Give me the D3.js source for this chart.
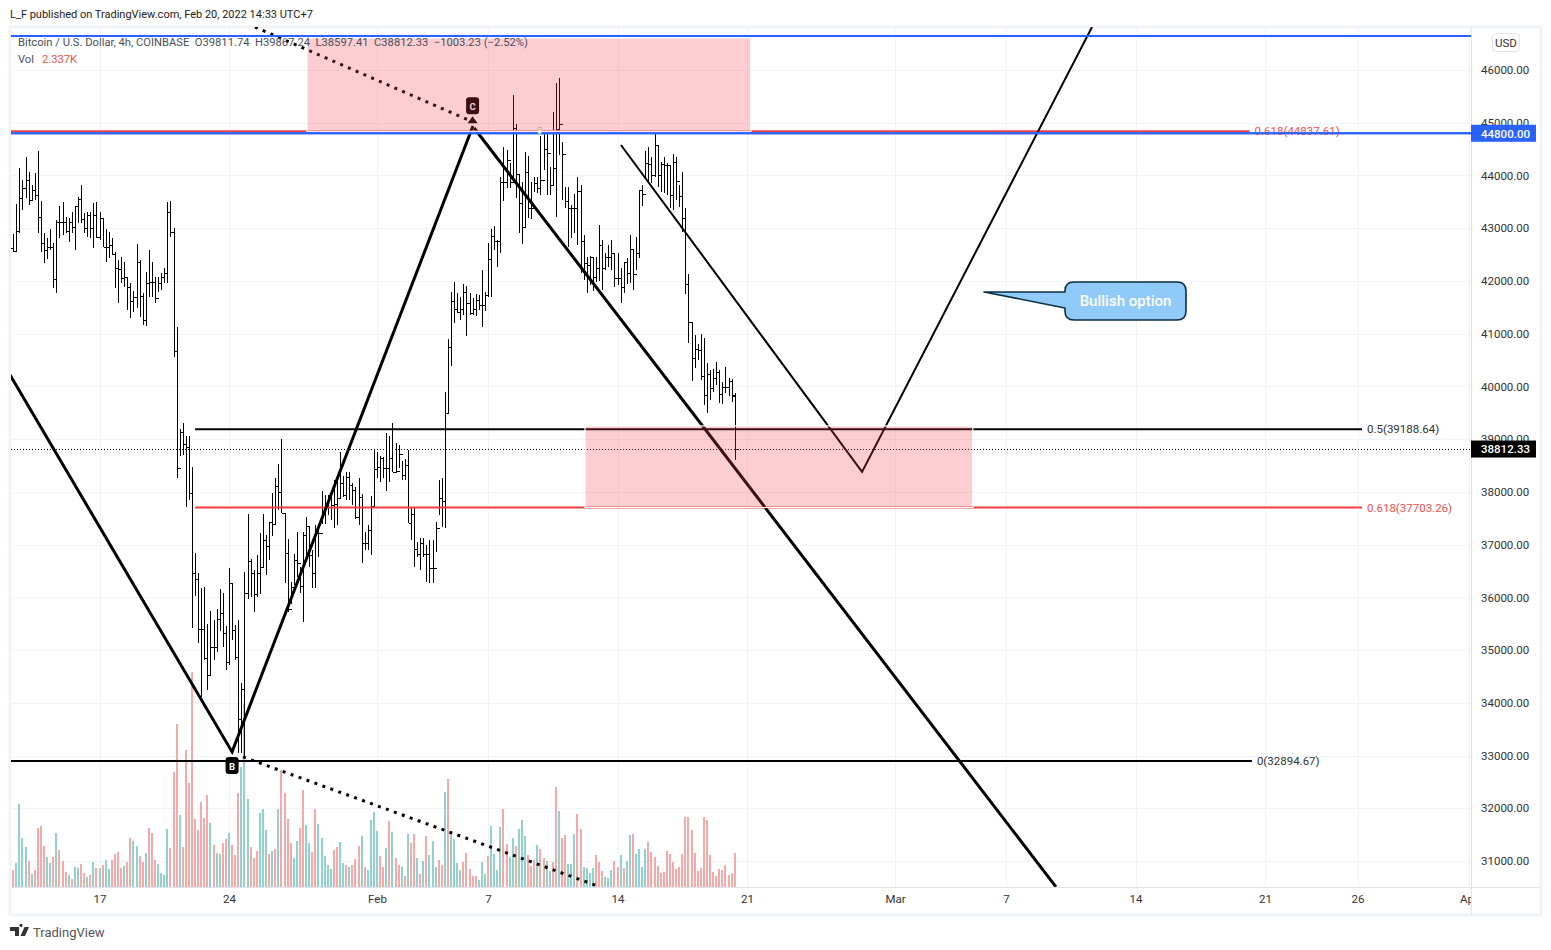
<!DOCTYPE html>
<html><head><meta charset="utf-8">
<script src="https://cdn.jsdelivr.net/npm/d3@7/dist/d3.min.js"></script>
<style>html,body{margin:0;padding:0;background:#fff;overflow:hidden}svg{display:block}text{font-family:Roboto,sans-serif}</style>
</head><body><svg id="c" width="1551" height="950"></svg>
<script>
// ---- data ----
const firstBar = "2022-01-12T04:00Z", barHours = 4;
const opens = [42650,42620,42570,42940,43570,43760,43915,43535,43725,43630,
43220,42725,42590,42650,42650,42040,43125,43110,43110,42955,
43110,43030,43420,43555,43170,42995,43250,42995,43250,42840,
43190,42650,42650,42680,42505,42250,42220,42050,42070,41890,
41610,41700,42365,41715,41260,41970,41985,41985,41670,41955,
42080,42145,43315,42935,40665,38447,39140,38909,38858,37973,
36457,36343,35395,35395,34845,34530,35067,35054,35591,35699,
35319,34782,36280,35383,34877,33689,34258,36090,36690,36457,
36057,36457,36570,37088,36975,37436,37385,38112,38005,37594,
36836,35770,36190,36710,36646,36216,37183,37354,36804,36457,
37228,37228,37720,37720,37720,37752,37765,37879,38176,37942,
38277,38131,38037,37531,37910,37038,37038,37278,37733,38428,
38479,38637,38447,38447,38637,38384,38403,38713,38321,38511,
37405,37582,36912,36823,37038,36823,36823,36551,36551,37322,
37879,37828,39490,40742,41620,41462,41418,41462,41797,41576,
41399,41462,41639,41544,41544,41734,42410,42852,42764,42764,
43882,43882,44293,43870,44893,44028,43471,43016,44072,43377,
43377,43851,43756,43914,44495,44419,43819,44135,44874,44976,
44400,43516,43377,43377,43377,43705,42764,42346,42302,42448,
42081,42239,42675,42239,42448,42448,42523,42049,42049,41891,
42365,42144,42606,42125,42536,43724,43648,44242,44217,44015,
44577,44009,44211,44198,44198,43629,44261,43895,43617,43187,
41936,41216,40533,40710,40691,40198,39838,40230,39977,40154,
40280,39857,39983,39983,40110,39811];
const highs = [43000,42890,43460,44140,43915,44355,44070,43820,44040,44465,
43515,42900,42810,42985,42715,43155,43420,43500,43220,43190,
43315,43420,43585,43820,43280,43315,43315,43470,43495,43315,
43190,42980,42935,42810,42555,42395,42450,42365,42080,41970,
41800,42700,42400,41765,42170,42590,42365,42080,42080,42145,
42240,43500,43515,42995,41120,39187,39300,39060,39060,38480,
36836,36457,36173,36204,35496,35743,35572,35774,36154,36078,
35458,36552,36268,35477,35572,34371,36488,37582,36722,36520,
36804,37215,37575,37184,37436,37986,38258,38523,39000,37594,
37100,36299,36817,37234,36583,37234,37519,37354,36899,37373,
37354,38018,37942,37942,37910,38226,38226,38763,38302,38384,
38384,38163,38087,38258,37961,37247,37373,37923,38795,38763,
38681,38656,39111,39060,39300,38934,38890,38593,38618,38795,
37689,37689,37057,37120,37120,36994,37089,37089,37436,38226,
38258,39900,40893,41797,41974,41765,41702,41942,41904,41778,
41671,41746,41734,42208,41797,42713,42978,43042,42776,43964,
44533,44483,44230,45525,44976,44028,43870,44438,44369,43882,
43964,43977,44748,44855,44830,44167,45209,45747,45841,44641,
43787,43787,43440,43648,43964,43819,42871,42460,42479,42460,
42460,43061,42776,42523,42681,42776,42523,42536,42239,42365,
42429,42871,42606,42839,43724,43819,44457,44533,44356,44786,
44577,44261,44356,44230,44198,44400,44356,43819,44059,43377,
42126,41216,40976,40805,40995,40912,40438,40312,40331,40457,
40312,40078,40363,40154,40135,39867];
const lows = [42460,42555,42555,42900,43345,43565,43440,43535,43535,42900,
42555,42335,42410,42590,41860,41765,42810,42870,42900,42745,
42900,42590,43090,43090,42900,42840,42810,42620,42810,42775,
42650,42365,42430,42490,41860,41575,41955,41890,41450,41305,
41420,41480,41325,41165,41150,41700,41700,41575,41795,41830,
41955,41955,42840,40565,38260,38680,38700,37708,37847,35427,
36027,35130,34118,34814,34245,34530,34814,34972,35370,35067,
34624,34719,35193,34814,33044,33044,33000,35970,36000,35730,
36014,36065,36564,36425,36710,37165,37392,37657,37594,36270,
35730,35875,36235,36394,36077,35540,36804,36583,36172,36172,
36773,37386,37392,37563,37468,37310,37373,37879,37910,37847,
37847,37752,37480,37373,36646,36899,36899,36804,37708,38258,
38195,38258,38024,38195,38384,38384,38447,38226,38226,37405,
37089,36583,36773,36520,36773,36299,36267,36280,36867,37563,
37341,37322,39490,40388,41209,41386,41260,41355,40963,41355,
41355,41342,41449,41133,41437,41689,41689,42587,42271,42523,
43522,43756,43756,43851,43566,42915,42694,42997,43187,43168,
43693,43661,43630,44103,43630,43630,43819,43219,44388,43535,
43377,42650,42808,42915,42681,42144,42018,41778,41923,41816,
41986,42005,41828,42207,42271,42207,41891,41923,41575,41765,
41942,41955,41828,42207,42429,43427,43945,43901,43863,43977,
43775,43693,43661,43629,43377,43345,43535,43408,42934,41747,
40818,40110,40344,40502,40122,39648,39490,39743,39901,40028,
39680,39661,39870,39825,39712,38597];
const closes = [42620,42570,42940,43570,43760,43915,43535,43725,43630,43220,
42725,42590,42650,42650,42040,43125,43110,43110,42955,43110,
43030,43420,43555,43170,42995,43250,42995,43250,42840,43190,
42650,42650,42680,42505,42250,42220,42050,42070,41890,41610,
41700,42365,41715,41260,41970,41985,41985,41670,41955,42080,
42145,43315,42935,40665,38447,39140,38909,38858,37973,36457,
36343,35395,35395,34845,34530,35067,35054,35591,35699,35319,
34782,36280,35383,34877,33689,34258,36090,36690,36457,36057,
36457,36570,37088,36975,37436,37385,38112,38005,37594,36836,
35770,36190,36710,36646,36216,37183,37354,36804,36457,37228,
37228,37720,37720,37720,37752,37765,37879,38176,37942,38277,
38131,38037,37531,37910,37038,37038,37278,37733,38428,38479,
38637,38447,38447,38637,38384,38403,38713,38321,38511,37405,
37582,36912,36823,37038,36823,36823,36551,36551,37322,37879,
37828,39490,40742,41620,41462,41418,41462,41797,41576,41399,
41462,41639,41544,41544,41734,42410,42852,42764,42764,43882,
43882,44293,43870,44893,44028,43471,43016,44072,43377,43377,
43851,43756,43914,44495,44419,43819,44135,44874,44976,44400,
43516,43377,43377,43377,43705,42764,42346,42302,42448,42081,
42239,42675,42239,42448,42448,42523,42049,42049,41891,42365,
42144,42606,42125,42536,43724,43648,44242,44217,44015,44577,
44009,44211,44198,44198,43629,44261,43895,43617,43187,41936,
41216,40533,40710,40691,40198,39838,40230,39977,40154,40280,
39857,39983,39983,40110,39838,38812];
const volumes = [1.77,1.20,1.68,5.75,3.40,2.78,1.77,0.92,1.20,4.09,4.23,2.85,2.09,1.68,2.09,3.75,2.57,1.77,1.06,0.85,
0.57,1.40,1.33,1.61,0.99,0.71,0.85,1.75,1.33,1.33,1.54,1.89,1.26,1.89,2.30,2.44,1.33,1.47,1.75,3.40,
3.20,2.85,2.16,1.75,2.37,4.09,3.75,1.89,1.61,0.99,0.85,4.02,2.71,7.95,11.26,4.99,2.78,9.47,7.20,14.85,
4.71,3.95,5.89,4.78,6.37,4.44,2.92,2.37,2.30,3.06,3.33,3.75,2.92,2.23,6.51,8.30,12.69,6.09,2.78,2.02,
2.51,5.13,5.40,3.95,2.30,2.51,2.64,5.40,8.09,6.51,4.71,3.06,2.02,3.20,4.09,6.71,4.30,3.06,2.44,5.40,
4.37,3.40,2.16,1.54,1.26,2.57,2.78,3.13,1.68,1.54,1.40,1.54,1.95,2.85,3.54,1.40,1.20,4.64,5.20,3.89,2.16,
1.38,2.69,4.55,3.79,2.00,1.52,1.38,0.76,3.66,3.03,3.66,2.00,0.90,1.79,3.52,2.21,3.17,1.38,1.86,1.52,
6.55,7.45,3.86,3.31,1.66,1.17,1.72,2.34,1.24,0.76,0.76,0.48,1.72,0.90,2.14,4.21,2.28,1.17,4.14,5.38,
2.97,2.07,3.38,2.83,4.00,4.62,3.52,2.21,1.45,1.86,2.90,2.62,2.00,1.79,1.10,1.72,6.90,5.24,3.38,3.59,
1.59,1.59,3.66,5.03,4.00,1.38,1.31,0.97,1.31,2.21,1.72,1.10,0.69,0.62,1.17,1.79,1.38,2.21,1.31,1.79,
3.59,3.66,2.28,2.62,1.38,2.62,3.10,2.41,2.07,1.45,0.97,1.03,2.48,2.28,1.72,1.24,1.38,2.28,4.83,4.83,
3.93,2.34,1.10,1.31,4.83,4.62,2.21,1.03,0.76,1.24,1.17,1.52,0.83,0.97,2.337];
const volumeDirections = ("d d u u u u d u d d d d u u d u d d d u d u u d d u d u d u d u u d d d d u d d "+
"u u d d u d d d u u u u d d d u d d d d d d d d d u d u u d d u d d d u u u d d "+
"d u u u d u d u d d d d u u d d u u d d u u u u u d d u u d u d d d u d u u u u "+
"d d u d u d d u d u d d u d u d u u u d d u d u u u u d d d d d u u u d u u u u d d "+
"u u d u u u d d d u d d u u d d u d d u u u d d u u u u d d d u u u d d u d u u d u u u u d d").trim().split(" ");
const priceTicks = [46000,45000,44000,43000,42000,41000,40000,39000,38000,37000,36000,35000,34000,33000,32000,31000];
const timeTicks = ["2022-01-17","2022-01-24","2022-02-01","2022-02-07","2022-02-14","2022-02-21","2022-03-01","2022-03-07","2022-03-14","2022-03-21","2022-03-26","2022-04-01"];
const timeLabels = ["17","24","Feb","7","14","21","Mar","7","14","21","26","Apr"];
const waveLine = [["2022-01-12T04:00Z",40217],["2022-01-24T04:00Z",33069],["2022-02-06T04:30Z",44938]];
const fallLine = [["2022-02-06T06:00Z",44900],["2022-03-09T16:48Z",30510]];
const bullishLine = [["2022-02-14T04:30Z",44578],["2022-02-27T05:15Z",38378],["2022-03-11T15:36Z",46815]];
const dottedTop = [["2022-01-25T09:43Z",46815],["2022-02-06T04:30Z",45014]];
const dottedBottom = [["2022-01-24T18:10Z",32974],["2022-02-13T01:12Z",30510]];
const fibLines = [
 {a:"2022-01-22T04:00Z",b:"2022-03-26T05:50Z",p:39188.64,c:"#000",w:2,label:"0.5(39188.64)"},
 {a:"2022-01-22T04:00Z",b:"2022-03-26T05:50Z",p:37703.26,c:"#f23f3a",w:2,label:"0.618(37703.26)"},
 {a:"2022-01-12T00:00Z",b:"2022-03-20T07:00Z",p:32894.67,c:"#000",w:2,label:"0(32894.67)"},
 {a:"2022-01-12T00:00Z",b:"2022-03-20T04:00Z",p:44837.61,c:"#f23f3a",w:2,label:"0.618(44837.61)"}];
const bluePrices = [46645,44800];
const lastPrice = 38812.33;
const zones = [["2022-01-28T05:11Z","2022-02-21T05:00Z",46607,44837.61],["2022-02-12T05:50Z","2022-03-05T05:00Z",39250,37703.26]];
const callout = {tip:["2022-03-05T19:30Z",41791],x0:"2022-03-10T04:30Z",x1:"2022-03-16T17:30Z",top:41980,bot:41260,baseLow:41487,text:"Bullish option"};
const markers = [{t:"2022-01-24T04:00Z",p:32894.67,s:"B",up:false},{t:"2022-02-06T04:00Z",p:44950,s:"C",up:true}];
const handlePoint = ["2022-02-09T19:00Z",44850];

// ---- layout ----
const L=11,R=1471,T=27,B=887, svg=d3.select("#c");
const dt=s=>new Date(s);
const x=d3.scaleUtc().domain([dt("2022-01-24T00:00Z"),dt("2022-03-01T00:00Z")]).range([229,895]);
const y=d3.scaleLinear().domain([31000,46000]).range([861,70]);
const v=d3.scaleLinear().domain([0,14.85]).range([887,672]);
const first=+dt(firstBar), tOf=i=>new Date(first+i*barHours*3600e3);
const px=i=>Math.round(x(tOf(i)));
const crisp=v=>Math.round(v)+.5;

svg.append("rect").attr("x",10).attr("y",27).attr("width",1531).attr("height",888).attr("fill","#fff").attr("stroke","#f0f3fa").attr("stroke-width",3);
const clip=svg.append("defs");
clip.append("clipPath").attr("id","pane").append("rect").attr("x",L).attr("y",T).attr("width",R-L).attr("height",B-T);
clip.append("clipPath").attr("id","timeclip").append("rect").attr("x",L).attr("y",B).attr("width",R-L).attr("height",28);
const pane=svg.append("g").attr("clip-path","url(#pane)");

// grid
pane.append("g").selectAll("line").data(priceTicks).join("line").attr("x1",L).attr("x2",R).attr("y1",d=>crisp(y(d))).attr("y2",d=>crisp(y(d))).attr("stroke","#f0f3fa");
pane.append("g").selectAll("line").data(timeTicks).join("line").attr("x1",d=>crisp(x(dt(d+"T00:00Z")))).attr("x2",d=>crisp(x(dt(d+"T00:00Z")))).attr("y1",T).attr("y2",B).attr("stroke","#f0f3fa");

// volume
pane.append("g").attr("shape-rendering","crispEdges").selectAll("rect").data(volumes).join("rect")
 .attr("x",(d,i)=>px(i)-1).attr("width",2).attr("y",d=>v(d)).attr("height",d=>887-v(d))
 .attr("fill",(d,i)=>volumeDirections[i]==="u"?"#92d2cc":"#f7a9a7");

// OHLC bars
const bars=pane.append("g").attr("stroke","#000").attr("stroke-width",1).attr("shape-rendering","crispEdges");
bars.selectAll("path").data(highs).join("path").attr("fill","none").attr("d",(h,i)=>{
 const c=px(i)+.5;
 return `M${c},${Math.round(y(h))}V${Math.round(y(lows[i]))}M${c-3},${crisp(y(opens[i]))}H${c}M${c},${crisp(y(closes[i]))}H${c+3}`;});

// drawings
const ln=d3.line().x(d=>x(dt(d[0]))).y(d=>y(d[1]));
const draw=pts=>pane.append("path").attr("d",ln(pts)).attr("fill","none").attr("stroke","#000").attr("stroke-linejoin","miter");
pane.append("g").selectAll("line").data(fibLines).join("line")
 .attr("x1",d=>x(dt(d.a))).attr("x2",d=>x(dt(d.b))).attr("y1",d=>y(d.p)).attr("y2",d=>y(d.p)).attr("stroke",d=>d.c).attr("stroke-width",d=>d.w);
pane.append("line").attr("x1",L).attr("x2",R).attr("y1",crisp(y(lastPrice))).attr("y2",crisp(y(lastPrice))).attr("stroke","#000").attr("stroke-dasharray","1,2");
draw(waveLine).attr("stroke-width",3);
draw(fallLine).attr("stroke-width",3);
draw(bullishLine).attr("stroke-width",2);
draw(dottedTop).attr("stroke-width",3).attr("stroke-dasharray","3,5.45");
draw(dottedBottom).attr("stroke-width",3).attr("stroke-dasharray","3,5.45");
pane.append("g").selectAll("line").data(bluePrices).join("line").attr("x1",L).attr("x2",R).attr("y1",d=>y(d)).attr("y2",d=>y(d)).attr("stroke","#2962ff").attr("stroke-width",2);

// fib labels
pane.append("g").selectAll("text").data(fibLines).join("text")
 .attr("x",d=>x(dt(d.b))+5).attr("y",d=>y(d.p)+4).attr("font-size",11.5).attr("fill",d=>d.c==="#000"?"#333":"#f2504a").text(d=>d.label);
pane.append("line").attr("x1",L).attr("x2",R).attr("y1",y(bluePrices[1])).attr("y2",y(bluePrices[1])).attr("stroke","#2962ff").attr("stroke-width",2);

// markers
markers.forEach(m=>{
 const mx=x(dt(m.t)), my=y(m.p);
 const g=pane.append("g");
 const top=m.up?my-28:my-4;
 g.append("rect").attr("x",mx-6.5).attr("y",top).attr("width",13).attr("height",17).attr("rx",3).attr("fill","#000");
 g.append("text").attr("x",mx).attr("y",top+12.5).attr("text-anchor","middle").attr("font-size",9.5).attr("font-weight",700).attr("fill","#fff").text(m.s);
 if(m.up) g.append("path").attr("d",`M${mx},${my-9}l5,7h-10z`).attr("fill","#000");
});
pane.append("rect").attr("x",x(dt(handlePoint[0]))-1.5).attr("y",y(handlePoint[1])-3).attr("width",3).attr("height",6).attr("fill","#fff").attr("stroke","#8fc7a8").attr("stroke-width",.7);

// zones (semi-transparent, over the drawings, with white edge)
pane.append("g").selectAll("rect").data(zones).join("rect")
 .attr("x",d=>x(dt(d[0]))).attr("width",d=>x(dt(d[1]))-x(dt(d[0]))).attr("y",d=>y(d[2])).attr("height",d=>y(d[3])-y(d[2]))
 .attr("fill","rgba(245,60,70,.25)").attr("stroke","#fff").attr("stroke-width",1.2);

// callout
{
 const cx0=x(dt(callout.x0)),cx1=x(dt(callout.x1)),ct=y(callout.top),cb=y(callout.bot),r=9,
  tx=x(dt(callout.tip[0])),ty=y(callout.tip[1]),bl=y(callout.baseLow);
 pane.append("path").attr("d",`M${tx},${ty}L${cx0},${ty}V${ct+r}Q${cx0},${ct} ${cx0+r},${ct}H${cx1-r}Q${cx1},${ct} ${cx1},${ct+r}V${cb-r}Q${cx1},${cb} ${cx1-r},${cb}H${cx0+r}Q${cx0},${cb} ${cx0},${cb-r}V${bl}Z`)
  .attr("fill","#90caf9").attr("stroke","#0b2f45").attr("stroke-width",1.6).attr("stroke-linejoin","round");
 pane.append("text").attr("x",(cx0+cx1)/2).attr("y",(ct+cb)/2+5.5).attr("text-anchor","middle").attr("font-size",15).attr("font-family","'Open Sans'").attr("font-weight",500).attr("fill","#fff").text(callout.text);
}

// axes
svg.append("line").attr("x1",R+.5).attr("x2",R+.5).attr("y1",T).attr("y2",915).attr("stroke","#e0e3eb");
svg.append("line").attr("x1",L).attr("x2",1540).attr("y1",B+.5).attr("y2",B+.5).attr("stroke","#e0e3eb");
const ya=svg.append("g").attr("transform",`translate(${R},0)`).call(d3.axisRight(y).tickValues(priceTicks).tickSize(0).tickPadding(10).tickFormat(d=>d3.format(".2f")(d)));
ya.select(".domain").remove();ya.selectAll("text").attr("font-size",11.5).attr("font-family","Roboto").attr("fill","#333");
const tDates=timeTicks.map(d=>dt(d+"T00:00Z"));
const xa=svg.append("g").attr("clip-path","url(#timeclip)").append("g").attr("transform",`translate(0,${B})`).call(d3.axisBottom(x).tickValues(tDates).tickSize(0).tickPadding(8).tickFormat((d,i)=>timeLabels[i]));
xa.select(".domain").remove();xa.selectAll("text").attr("font-size",11.5).attr("font-family","Roboto").attr("fill","#333");

// price labels
const tag=(p,fill,txt)=>{
 const g=svg.append("g"),cy=y(p);
 g.append("rect").attr("x",R).attr("y",cy-8.5).attr("width",65).attr("height",17).attr("fill",fill);
 g.append("text").attr("x",R+10).attr("y",cy+4.3).attr("font-size",11.5).attr("font-weight",500).attr("fill","#fff").text(txt);
};
tag(bluePrices[1],"#2962ff",d3.format(".2f")(bluePrices[1]));
tag(lastPrice,"#000",d3.format(".2f")(lastPrice));
svg.append("rect").attr("x",1492.5).attr("y",33.5).attr("width",27).attr("height",18).attr("rx",4).attr("fill","#fff").attr("stroke","#e0e3eb");
svg.append("text").attr("x",1506).attr("y",47).attr("text-anchor","middle").attr("font-size",11.5).attr("fill","#333").text("USD");

// header / legend
svg.append("text").attr("x",10).attr("y",18).attr("font-size",11).attr("fill","#222").text("L_F published on TradingView.com, Feb 20, 2022 14:33 UTC+7");
const lg=svg.append("g").attr("font-size",11.2).attr("fill","#4a4f5c");
lg.append("text").attr("x",18).attr("y",46).attr("xml:space","preserve").style("white-space","pre").text("Bitcoin / U.S. Dollar, 4h, COINBASE  O39811.74  H39867.24  L38597.41  C38812.33  −1003.23 (−2.52%)");
lg.append("text").attr("x",18).attr("y",63).text("Vol");
lg.append("text").attr("x",42).attr("y",63).attr("fill","#f2504a").text("2.337K");

// footer logo
svg.append("path").attr("d","M10,927h9v9h-4v-5h-5zM21,927a1.6,1.6 0 1,1 .01,0M24.5,927h4.5l-4,9h-4.5z").attr("fill","#333");
svg.append("text").attr("x",33).attr("y",937).attr("font-size",13).attr("fill","#555").text("TradingView");
</script></body></html>
